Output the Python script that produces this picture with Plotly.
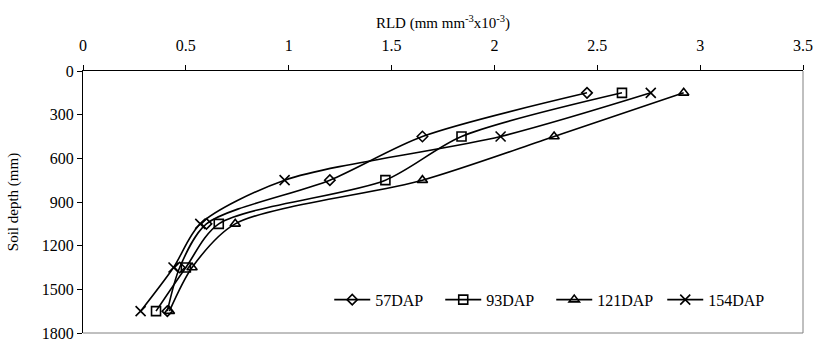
import plotly.graph_objects as go

depth = [150, 450, 750, 1050, 1350, 1650]
rld_57 = [2.45, 1.65, 1.20, 0.60, 0.47, 0.41]
rld_93 = [2.62, 1.84, 1.47, 0.66, 0.50, 0.355]
rld_121 = [2.92, 2.29, 1.65, 0.74, 0.53, 0.42]
rld_154 = [2.76, 2.03, 0.98, 0.57, 0.44, 0.28]

series = [
    ("57DAP", rld_57, "diamond-open", 8),
    ("93DAP", rld_93, "square-open", 9),
    ("121DAP", rld_121, "triangle-up-open", 9),
    ("154DAP", rld_154, "x-thin-open", 10),
]

font_family = "Liberation Serif, Times New Roman, serif"

fig = go.Figure()
for name, vals, sym, sz in series:
    fig.add_trace(go.Scatter(
        x=vals, y=depth, name=name, mode="lines+markers",
        line=dict(color="black", width=1.6, shape="spline", smoothing=0.8),
        marker=dict(symbol=sym, size=sz, color="black",
                    line=dict(color="black", width=1.6)),
    ))

fig.update_layout(
    width=821, height=350,
    margin=dict(l=83, r=10, t=71, b=8),
    paper_bgcolor="white", plot_bgcolor="white",
    font=dict(family=font_family, size=15, color="black"),
    showlegend=True,
    legend=dict(orientation="h", x=0.342, y=0.127, xanchor="left", yanchor="middle",
                bgcolor="rgba(0,0,0,0)", font=dict(size=16, family=font_family),
                itemwidth=36, entrywidth=60, tracegroupgap=0),
    xaxis=dict(
        side="top", range=[0, 3.5], dtick=0.5, tick0=0,
        showgrid=False, zeroline=False,
        showline=True, linecolor="black", linewidth=1,
        ticks="outside", ticklen=5, tickcolor="black",
        tickfont=dict(size=16), ticklabelstandoff=8,
        ticklabeloverflow="allow",
        title=dict(text="RLD (mm mm<sup>-3</sup>x10<sup>-3</sup>)",
                   font=dict(size=15), standoff=4),
    ),
    yaxis=dict(
        range=[1800, 0], dtick=300, tick0=0,
        showgrid=False, zeroline=False,
        showline=True, linecolor="black", linewidth=1,
        ticks="outside", ticklen=5, tickcolor="black",
        tickfont=dict(size=16), ticklabeloverflow="allow",
        title=dict(text="Soil depth (mm)", font=dict(size=15), standoff=19),
    ),
)

# plot-area border (right and bottom), as in the original
fig.add_shape(type="line", xref="paper", yref="paper", x0=1, x1=1, y0=0, y1=1,
              line=dict(color="#808080", width=1))
fig.add_shape(type="line", xref="paper", yref="paper", x0=0, x1=1, y0=0, y1=0,
              line=dict(color="#808080", width=1))

fig.write_html("out.html")
